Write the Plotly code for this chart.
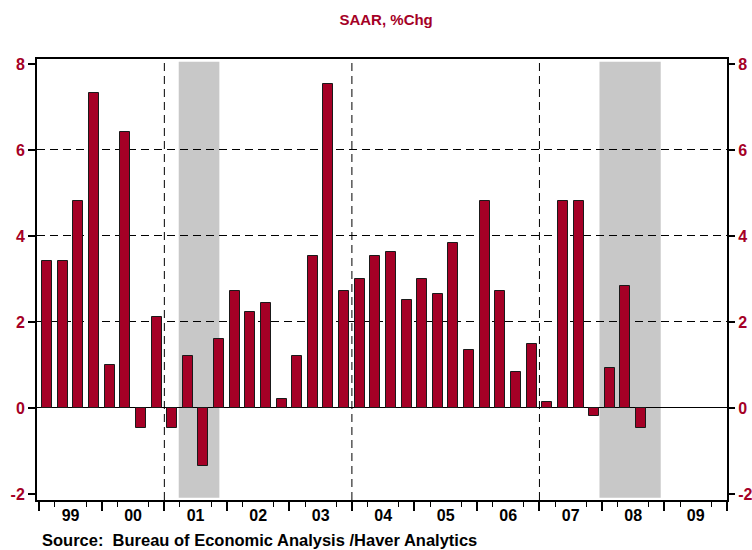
import plotly.graph_objects as go

# ---- data ----
quarters = [f"{y}Q{q}" for y in range(1999, 2009) for q in range(1, 5)][:39]
values = [3.41, 3.41, 4.82, 7.33,
          1.01, 6.41, -0.47, 2.11,
          -0.47, 1.22, -1.36, 1.61,
          2.73, 2.23, 2.44, 0.22,
          1.22, 3.53, 7.54, 2.73,
          3.00, 3.53, 3.63, 2.52,
          3.00, 2.65, 3.83, 1.34,
          4.82, 2.73, 0.83, 1.49,
          0.14, 4.82, 4.82, -0.18,
          0.93, 2.84, -0.47]
years = list(range(1999, 2010))
year_labels = ["99", "00", "01", "02", "03", "04", "05", "06", "07", "08", "09"]
recessions = [(2001.23, 2001.88), (2007.96, 2008.94)]
separator_years = [2001, 2004, 2007]
y_ticks = [-2, 0, 2, 4, 6, 8]
y_tick_labels = ["-2", "0", "2", "4", "6", "8"]
grid_values = [2, 4, 6]

title_text = "SAAR, %Chg"
source_text = "Source:  Bureau of Economic Analysis /Haver Analytics"

# ---- styling ----
RED = "#A50026"
FONT = "Liberation Sans, Arial, sans-serif"
x_range = [1998.963, 2010.0]
y_range = [-2.14, 8.116]

def q_to_x(q):
    y, n = q.split("Q")
    return int(y) + (int(n) - 0.5) / 4.0

bar_x = [q_to_x(q) for q in quarters]
year_centers = [y + 0.5 for y in years]
year_bounds = years + [years[-1] + 1]
minor_ticks = [y + f for y in years for f in (0.25, 0.75)]

fig = go.Figure()
fig.add_trace(go.Bar(
    x=bar_x, y=values, width=0.16,
    marker=dict(color=RED, line=dict(color="#1a1a1a", width=1)),
    hoverinfo="skip", showlegend=False))
# invisible helpers so overlay axes are drawn
fig.add_trace(go.Scatter(x=[year_centers[0]], y=[0], xaxis="x2", yaxis="y2",
                         mode="markers", marker=dict(opacity=0), showlegend=False, hoverinfo="skip"))
fig.add_trace(go.Scatter(x=[year_centers[0]], y=[0], xaxis="x", yaxis="y3",
                         mode="markers", marker=dict(opacity=0), showlegend=False, hoverinfo="skip"))

shapes = []
for x0, x1 in recessions:
    shapes.append(dict(type="rect", xref="x", yref="y", x0=x0, x1=x1, y0=-2.09, y1=8.05,
                       fillcolor="#C8C8C8", line=dict(width=0), layer="below"))
for sx in separator_years:
    shapes.append(dict(type="line", xref="x", yref="paper", x0=sx, x1=sx, y0=0, y1=1,
                       line=dict(color="black", width=1, dash="8px,5px"), layer="below"))

tickfont_y = dict(family=FONT, size=16, color=RED, weight="bold")

fig.update_layout(
    width=752, height=550,
    margin=dict(l=37, r=25, t=59, b=50, autoexpand=False),
    paper_bgcolor="white", plot_bgcolor="white",
    shapes=shapes,
    bargap=0,
    title=dict(text=title_text, x=0.506, xref="paper", xanchor="center",
               y=1 - 20 / 550, yref="container", yanchor="middle",
               font=dict(family=FONT, size=15, color=RED, weight="bold")),
    xaxis=dict(range=x_range, tickmode="array", tickvals=year_bounds, automargin=False,
               ticks="outside", ticklen=9, tickwidth=2, tickcolor="black",
               showticklabels=False, showgrid=False, zeroline=False,
               showline=True, linecolor="black", linewidth=2, mirror=True,
               minor=dict(tickmode="array", tickvals=minor_ticks, ticks="outside",
                          ticklen=5, tickwidth=1, tickcolor="black", showgrid=False)),
    xaxis2=dict(overlaying="x", anchor="y", side="bottom", range=x_range, automargin=False,
                tickmode="array", tickvals=year_centers, ticktext=year_labels,
                ticks="", showline=False, showgrid=False, zeroline=False,
                ticklabelstandoff=4,
                tickfont=dict(family=FONT, size=16, color="black", weight="bold")),
    yaxis=dict(range=y_range, tickmode="array", tickvals=y_ticks, ticktext=y_tick_labels,
               automargin=False,
               ticks="outside", ticklen=7, tickwidth=2, tickcolor="black",
               tickfont=tickfont_y, showgrid=False,
               zeroline=True, zerolinecolor="black", zerolinewidth=1,
               showline=True, linecolor="black", linewidth=2, mirror=True),
    yaxis2=dict(overlaying="y", anchor="x", side="right", range=y_range, automargin=False,
                tickmode="array", tickvals=y_ticks, ticktext=y_tick_labels,
                ticks="outside", ticklen=7, tickwidth=2, tickcolor="black",
                tickfont=tickfont_y, showgrid=False, zeroline=False, showline=False),
    yaxis3=dict(overlaying="y", anchor="x", range=y_range, automargin=False,
                tickmode="array", tickvals=grid_values,
                showgrid=True, gridcolor="black", gridwidth=1, griddash="8px,5px",
                showticklabels=False, ticks="", zeroline=False, showline=False),
    annotations=[dict(text=source_text, xref="paper", yref="paper",
                      x=(40 - 37) / 690, y=-40 / 441, xanchor="left", yanchor="middle",
                      showarrow=False,
                      font=dict(family=FONT, size=16.5, color="black", weight="bold"))],
)

fig.write_html("out.html", config={"displayModeBar": False},
               post_script="document.body.style.margin='0';document.body.style.padding='0';")
